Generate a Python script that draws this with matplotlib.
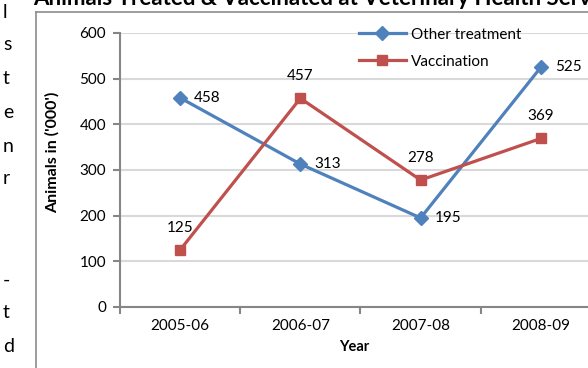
import numpy as np
import matplotlib.pyplot as plt
from matplotlib.lines import Line2D

plt.rcParams['font.family'] = ['Lato', 'DejaVu Sans']

# Chart data
years = ['2005-06', '2006-07', '2007-08', '2008-09']
other_treatment = [458, 313, 195, 525]
vaccination = [125, 457, 278, 369]
y_ticks = [0, 100, 200, 300, 400, 500, 600]

# Fragments of the surrounding document text (cut off on the left)
side_letters = ['l', 's', 't', 'e', 'n', 'r', '-', 't', 'd']
side_rows = [12, 45, 79, 112, 146, 179, 280, 313, 347]

W, H = 588, 368
fig = plt.figure(figsize=(W / 100, H / 100), dpi=100)


def px(x, y):
    return x / W, 1 - y / H


# Plot area extends past the right edge of the crop
left, right, top, bottom = 120, 601, 33, 307
ax = fig.add_axes([left / W, 1 - bottom / H, (right - left) / W, (bottom - top) / H])

blue = '#4F81BD'
red = '#C0504D'
x = np.arange(len(years))

ax.plot(x, other_treatment, color=blue, lw=2.3, marker='D', ms=7.5,
        label='Other treatment', zorder=3)
ax.plot(x, vaccination, color=red, lw=2.3, marker='s', ms=7.5,
        label='Vaccination', zorder=3)

for xi, v in zip(x, other_treatment):
    ax.annotate(str(v), (xi, v), xytext=(14, 0), textcoords='offset pixels',
                ha='left', va='center', fontsize=11)
for xi, v in zip(x, vaccination):
    ax.annotate(str(v), (xi, v), xytext=(0, 15), textcoords='offset pixels',
                ha='center', va='bottom', fontsize=11)

ax.set_xlim(-0.5, len(years) - 0.5)
ax.set_ylim(0, 600)
ax.set_yticks(y_ticks)
ax.set_xticks(x)
ax.set_xticklabels(years, fontsize=11)
ax.set_xticks(np.arange(-0.5, len(years)), minor=True)
ax.tick_params(axis='x', which='major', length=0, pad=9)
ax.tick_params(axis='x', which='minor', length=5, width=1.5, color='#868686')
ax.tick_params(axis='y', length=5, width=1.5, color='#868686', labelsize=11, pad=5)

ax.grid(axis='y', color='#d9d9d9', lw=1.5)
ax.set_axisbelow(True)
for s in ['top', 'right']:
    ax.spines[s].set_visible(False)
for s in ['left', 'bottom']:
    ax.spines[s].set_color('#868686')
    ax.spines[s].set_linewidth(1.5)

handles = [Line2D([], [], color=blue, lw=2.3, marker='D', ms=7.5),
           Line2D([], [], color=red, lw=2.3, marker='s', ms=7.5)]
fig.legend(handles, ['Other treatment', 'Vaccination'], loc='upper left',
           bbox_to_anchor=px(345, 14), frameon=False, fontsize=11,
           handlelength=3.1, handletextpad=0.3, labelspacing=0.85)

# Axis titles
fig.text(*px(52, 152), "Animals in ('000')", rotation=90, ha='center',
         va='center', fontsize=11.5, fontweight='bold')
fig.text(*px(354, 347), 'Year', ha='center', va='center', fontsize=10.5,
         fontweight='bold')

# Chart title, clipped at the top of the crop
fig.text(*px(33, 5), 'Animals Treated & Vaccinated at Veterinary Health Services',
         ha='left', va='baseline', fontsize=16, fontweight='bold')

# Chart frame
fig.add_artist(Line2D([36 / W, 36 / W], [0, 1 - 12 / H], color='#8c8c8c', lw=1.2))
fig.add_artist(Line2D([36 / W, 1], [1 - 12 / H, 1 - 12 / H], color='#8c8c8c', lw=1.2))

for ch, yy in zip(side_letters, side_rows):
    fig.text(*px(3, yy), ch, ha='left', va='center', fontsize=14)

fig.savefig('out.png', dpi=100)
